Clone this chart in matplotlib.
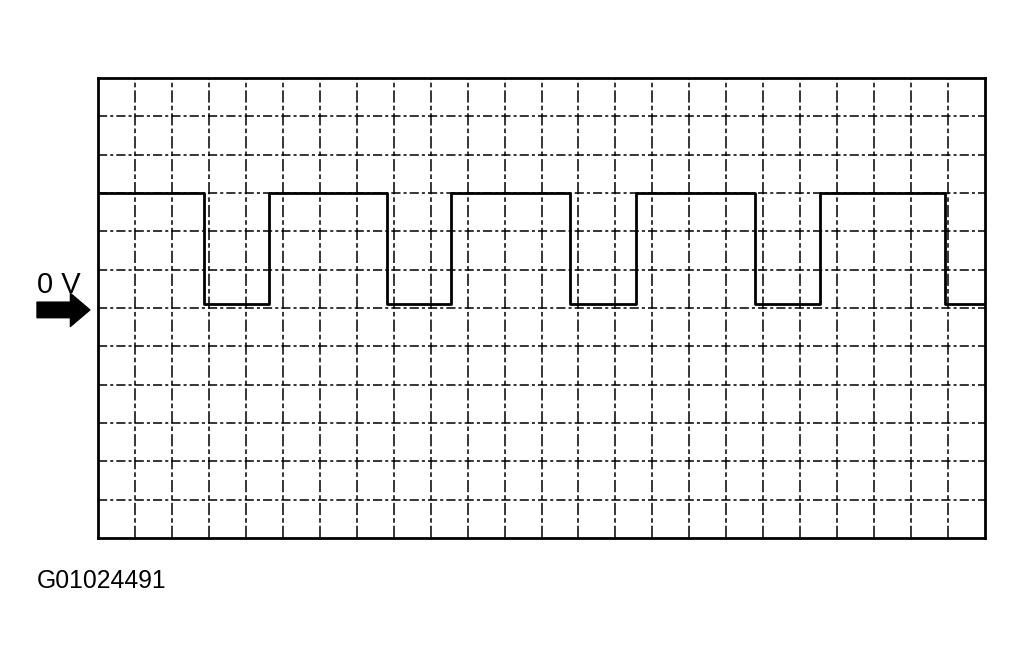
import matplotlib
matplotlib.use("Agg")
import matplotlib.pyplot as plt

# signal edges in grid divisions (x) and level in divisions above 0 V (y)
edges = [0, 2.87, 4.63, 7.82, 9.55, 12.77, 14.56, 17.78, 19.53, 22.92, 24]
levels = [3, 0.1, 3, 0.1, 3, 0.1, 3, 0.1, 3, 0.1, 0.1]

n_cols = 24
n_rows = 12
label_0v = "0 V"
fig_code = "G01024491"

fig = plt.figure(figsize=(10.25, 6.63), dpi=100)
ax = fig.add_axes([98 / 1025, 125 / 663, 887 / 1025, 460 / 663])

ax.set_xlim(0, n_cols)
ax.set_ylim(-n_rows / 2, n_rows / 2)

# grid
for i in range(1, n_cols):
    ax.axvline(i, color="black", lw=1.1, ls=(0, (8, 2, 3, 2)))
for j in range(1, n_rows):
    ax.axhline(j - n_rows / 2, color="black", lw=1.1, ls=(0, (6, 2, 2, 2)))

# signal trace
ax.step(edges, levels, where="post", color="black", lw=2.0)

ax.set_xticks([])
ax.set_yticks([])
for s in ax.spines.values():
    s.set_linewidth(2)

# 0 V marker
ax.annotate("", xy=(-0.22, -0.05), xytext=(-1.65, -0.05),
            arrowprops=dict(arrowstyle="simple,head_length=1.0,head_width=1.7,tail_width=0.8",
                            mutation_scale=14, color="black", shrinkA=0, shrinkB=0),
            annotation_clip=False)
fig.text(37 / 1025, 1 - 293 / 663, label_0v, fontsize=21, family="Liberation Sans",
         ha="left", va="baseline")

fig.text(37 / 1025, 1 - 588 / 663, fig_code, fontsize=17.8, family="Liberation Sans",
         ha="left", va="baseline")

fig.savefig("out.png", dpi=100)
